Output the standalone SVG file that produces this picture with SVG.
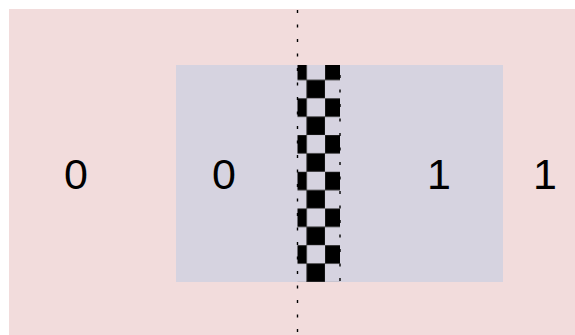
<svg xmlns="http://www.w3.org/2000/svg" width="575" height="335" viewBox="0 0 575 335">
  <defs>
    <style>
      .digit { font-family: "Liberation Sans", Arial, sans-serif; font-size: 43px; fill: #000; text-anchor: middle; }
      .dots { stroke: #000; stroke-width: 1.4; stroke-dasharray: 3 11.5; fill: none; }
    </style>
    <pattern id="checker" patternUnits="userSpaceOnUse" x="288.3" y="61.6" width="36.72" height="36.72">
      <rect x="0" y="0" width="18.36" height="18.36" fill="#000" stroke="#444" stroke-width="0.6"/>
      <rect x="18.36" y="18.36" width="18.36" height="18.36" fill="#000" stroke="#444" stroke-width="0.6"/>
    </pattern>
  </defs>

  <rect width="575" height="335" fill="#ffffff"/>

  <!-- outer region -->
  <g id="outer">
    <rect x="9" y="9" width="566" height="326" fill="#f2dcdc"/>
  </g>

  <!-- inner region -->
  <g id="inner">
    <rect x="176" y="65" width="327" height="217" fill="#d6d3e0"/>
  </g>

  <!-- checkered strip -->
  <g id="strip">
    <rect x="297.5" y="65" width="42.5" height="217" fill="url(#checker)"/>
  </g>

  <!-- dotted boundaries -->
  <g id="connectors">
    <line class="dots" x1="297.5" y1="0" x2="297.5" y2="335" stroke-dashoffset="4.5"/>
    <line class="dots" x1="340" y1="65" x2="340" y2="282" stroke-dashoffset="4.5"/>
  </g>

  <!-- labels -->
  <g id="label-outer-left"><text class="digit" x="76" y="189">0</text></g>
  <g id="label-inner-left"><text class="digit" x="224" y="189">0</text></g>
  <g id="label-inner-right"><text class="digit" x="439" y="189">1</text></g>
  <g id="label-outer-right"><text class="digit" x="545" y="189">1</text></g>
</svg>
